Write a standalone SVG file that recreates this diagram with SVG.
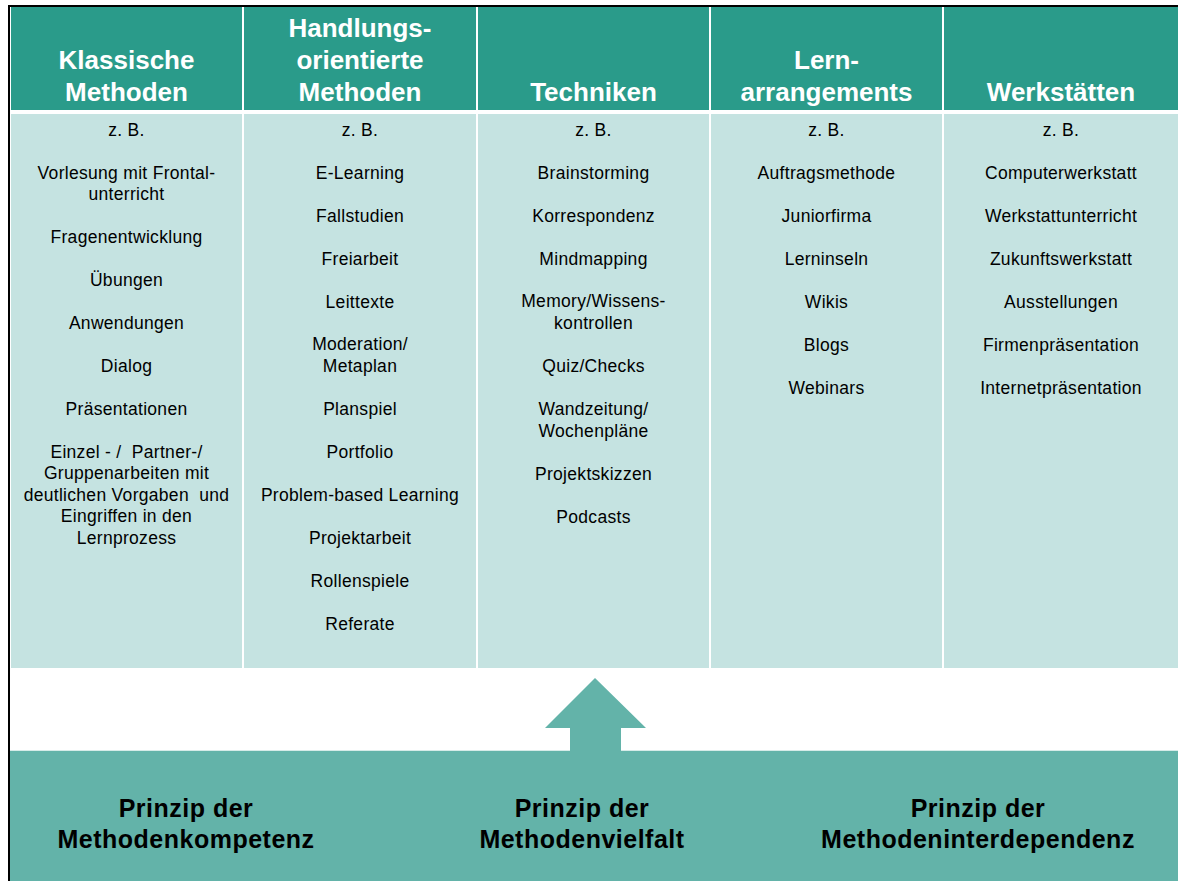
<svg xmlns="http://www.w3.org/2000/svg" width="1178" height="881" viewBox="0 0 1178 881">
<style>
.hd{fill:#2a9b8a}
.bd{fill:#c5e3e1}
.ht{font-family:"Liberation Sans",Arial,sans-serif;font-weight:bold;font-size:26px;fill:#fff;text-anchor:middle}
.t{font-family:"Liberation Sans",Arial,sans-serif;font-size:17.5px;letter-spacing:0.3px;fill:#000;text-anchor:middle}
.pt{font-family:"Liberation Sans",Arial,sans-serif;font-weight:bold;font-size:25px;letter-spacing:0.5px;fill:#000;text-anchor:middle}
</style>
<rect x="0" y="0" width="1178" height="881" fill="#fff"/>
<g id="col1">
<rect class="hd" x="11" y="7" width="231" height="103"/>
<rect class="bd" x="11" y="114" width="231" height="554"/>
<text class="ht" x="126.5" y="69">Klassische</text>
<text class="ht" x="126.5" y="101">Methoden</text>
<text class="t" x="126.5" y="136">z. B.</text>
<text class="t" x="126.5" y="179">Vorlesung mit Frontal-</text>
<text class="t" x="126.5" y="200">unterricht</text>
<text class="t" x="126.5" y="243">Fragenentwicklung</text>
<text class="t" x="126.5" y="286">Übungen</text>
<text class="t" x="126.5" y="329">Anwendungen</text>
<text class="t" x="126.5" y="372">Dialog</text>
<text class="t" x="126.5" y="415">Präsentationen</text>
<text class="t" x="126.5" y="458" xml:space="preserve">Einzel - /  Partner-/</text>
<text class="t" x="126.5" y="479">Gruppenarbeiten mit</text>
<text class="t" x="126.5" y="501" xml:space="preserve">deutlichen Vorgaben  und</text>
<text class="t" x="126.5" y="522">Eingriffen in den</text>
<text class="t" x="126.5" y="544">Lernprozess</text>
</g>
<g id="col2">
<rect class="hd" x="244" y="7" width="232" height="103"/>
<rect class="bd" x="244" y="114" width="232" height="554"/>
<text class="ht" x="360" y="37">Handlungs-</text>
<text class="ht" x="360" y="69">orientierte</text>
<text class="ht" x="360" y="101">Methoden</text>
<text class="t" x="360" y="136">z. B.</text>
<text class="t" x="360" y="179">E-Learning</text>
<text class="t" x="360" y="222">Fallstudien</text>
<text class="t" x="360" y="265">Freiarbeit</text>
<text class="t" x="360" y="308">Leittexte</text>
<text class="t" x="360" y="350">Moderation/</text>
<text class="t" x="360" y="372">Metaplan</text>
<text class="t" x="360" y="415">Planspiel</text>
<text class="t" x="360" y="458">Portfolio</text>
<text class="t" x="360" y="501">Problem-based Learning</text>
<text class="t" x="360" y="544">Projektarbeit</text>
<text class="t" x="360" y="587">Rollenspiele</text>
<text class="t" x="360" y="630">Referate</text>
</g>
<g id="col3">
<rect class="hd" x="478" y="7" width="231" height="103"/>
<rect class="bd" x="478" y="114" width="231" height="554"/>
<text class="ht" x="593.5" y="101">Techniken</text>
<text class="t" x="593.5" y="136">z. B.</text>
<text class="t" x="593.5" y="179">Brainstorming</text>
<text class="t" x="593.5" y="222">Korrespondenz</text>
<text class="t" x="593.5" y="265">Mindmapping</text>
<text class="t" x="593.5" y="307">Memory/Wissens-</text>
<text class="t" x="593.5" y="329">kontrollen</text>
<text class="t" x="593.5" y="372">Quiz/Checks</text>
<text class="t" x="593.5" y="415">Wandzeitung/</text>
<text class="t" x="593.5" y="437">Wochenpläne</text>
<text class="t" x="593.5" y="480">Projektskizzen</text>
<text class="t" x="593.5" y="523">Podcasts</text>
</g>
<g id="col4">
<rect class="hd" x="711" y="7" width="231" height="103"/>
<rect class="bd" x="711" y="114" width="231" height="554"/>
<text class="ht" x="826.5" y="69">Lern-</text>
<text class="ht" x="826.5" y="101">arrangements</text>
<text class="t" x="826.5" y="136">z. B.</text>
<text class="t" x="826.5" y="179">Auftragsmethode</text>
<text class="t" x="826.5" y="222">Juniorfirma</text>
<text class="t" x="826.5" y="265">Lerninseln</text>
<text class="t" x="826.5" y="308">Wikis</text>
<text class="t" x="826.5" y="351">Blogs</text>
<text class="t" x="826.5" y="394">Webinars</text>
</g>
<g id="col5">
<rect class="hd" x="944" y="7" width="234" height="103"/>
<rect class="bd" x="944" y="114" width="234" height="554"/>
<text class="ht" x="1061" y="101">Werkstätten</text>
<text class="t" x="1061" y="136">z. B.</text>
<text class="t" x="1061" y="179">Computerwerkstatt</text>
<text class="t" x="1061" y="222">Werkstattunterricht</text>
<text class="t" x="1061" y="265">Zukunftswerkstatt</text>
<text class="t" x="1061" y="308">Ausstellungen</text>
<text class="t" x="1061" y="351">Firmenpräsentation</text>
<text class="t" x="1061" y="394">Internetpräsentation</text>
</g>
<g id="connectors">
<polygon points="595,678 646,728 621,728 621,751 570,751 570,728 545,728" fill="#63b3a9"/>
</g>
<g id="principles">
<rect x="10" y="750" width="1168" height="131" fill="#63b3a9"/>
<line x1="10" y1="750.5" x2="570" y2="750.5" stroke="#d6ebe8" stroke-width="1"/>
<line x1="621" y1="750.5" x2="1178" y2="750.5" stroke="#d6ebe8" stroke-width="1"/>
<text class="pt" x="186" y="817">Prinzip der</text>
<text class="pt" x="186" y="848">Methodenkompetenz</text>
<text class="pt" x="582" y="817">Prinzip der</text>
<text class="pt" x="582" y="848">Methodenvielfalt</text>
<text class="pt" x="978" y="817">Prinzip der</text>
<text class="pt" x="978" y="848">Methodeninterdependenz</text>
</g>
<rect x="8" y="5" width="1170" height="2" fill="#000"/>
<rect x="8" y="5" width="2" height="876" fill="#000"/>
</svg>
